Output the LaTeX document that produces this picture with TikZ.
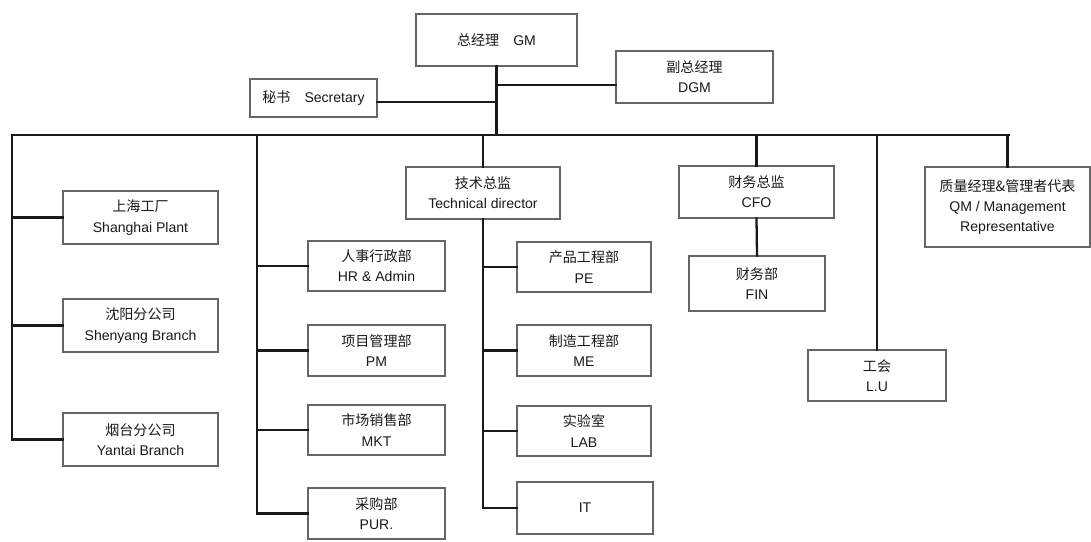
\documentclass[tikz,border=0pt]{standalone}
\usepackage{fontspec}
\setmainfont{Liberation Sans}
\newfontfamily\cjkfont{Noto Sans CJK SC}
\newcommand{\zhtext}[1]{{\cjkfont #1}}
\tikzset{
    orgbox/.style={draw=black!60, line width=0.6pt, align=center, inner sep=0pt,
        text=black!90, font=\fontsize{8}{11.5}\selectfont},
    boxdim/.style 2 args={minimum width=#1*0.02cm, minimum height=#2*0.02cm},
    orgline/.style={draw=black!90, line width=1.3pt, line cap=rect},
}

\begin{document}
\begin{tikzpicture}[x=0.02cm, y=-0.02cm]
    \useasboundingbox (0,0) rectangle (1091,541);
    % top
    \node[orgbox, boxdim={161}{52}] (gm) at (496.5,40) {\zhtext{总经理}\quad GM};
    \node[orgbox, boxdim={157}{52}] (dgm) at (694.5,77) {\zhtext{副总经理}\\DGM};
    \node[orgbox, boxdim={127}{38}] (sec) at (313.5,98) {\zhtext{秘书}\quad Secretary};
    % branches
    \node[orgbox, boxdim={155}{53}] (sh) at (140.5,217.5) {\zhtext{上海工厂}\\Shanghai Plant};
    \node[orgbox, boxdim={155}{53}] (sy) at (140.5,325.5) {\zhtext{沈阳分公司}\\Shenyang Branch};
    \node[orgbox, boxdim={155}{53}] (yt) at (140.5,439.5) {\zhtext{烟台分公司}\\Yantai Branch};
    % departments
    \node[orgbox, boxdim={137}{50}] (hr) at (376.5,266) {\zhtext{人事行政部}\\HR \& Admin};
    \node[orgbox, boxdim={137}{51}] (pm) at (376.5,350.5) {\zhtext{项目管理部}\\PM};
    \node[orgbox, boxdim={137}{50}] (mkt) at (376.5,430) {\zhtext{市场销售部}\\MKT};
    \node[orgbox, boxdim={137}{51}] (pur) at (376.5,513.5) {\zhtext{采购部}\\PUR.};
    \node[orgbox, boxdim={154}{52}] (tech) at (483,193) {\zhtext{技术总监}\\Technical director};
    \node[orgbox, boxdim={134}{50}] (pe) at (584,267) {\zhtext{产品工程部}\\PE};
    \node[orgbox, boxdim={134}{51}] (me) at (584,350.5) {\zhtext{制造工程部}\\ME};
    \node[orgbox, boxdim={134}{50}] (lab) at (584,431) {\zhtext{实验室}\\LAB};
    \node[orgbox, boxdim={136}{52}] (it) at (585,508) {IT};
    \node[orgbox, boxdim={155}{52}] (cfo) at (756.5,192) {\zhtext{财务总监}\\CFO};
    \node[orgbox, boxdim={136}{55}] (fin) at (757,283.5) {\zhtext{财务部}\\FIN};
    \node[orgbox, boxdim={138}{51}] (lu) at (877,375.5) {\zhtext{工会}\\L.U};
    \node[orgbox, boxdim={165}{80}] (qm) at (1007.5,207)
        {\zhtext{质量经理\&管理者代表}\\QM / Management\\Representative};
    % joints
    \coordinate (gmdgm) at (497,85);
    \coordinate (gmsec) at (497,102);
    \coordinate (busL) at (12,135);
    \coordinate (busR) at (1009,135);
    \coordinate (admin) at (257,135);
    % connectors
    \draw[orgline] (gm.south) -- (gm.south |- busL);
    \draw[orgline] (gmdgm) -- (gmdgm -| dgm.west);
    \draw[orgline] (gmsec) -- (gmsec -| sec.east);
    \draw[orgline] (busL) -- (busR);
    \draw[orgline] (busL) |- (yt.west);
    \foreach \b in {sh, sy}
        \draw[orgline] (busL |- \b.west) -- (\b.west);
    \draw[orgline] (admin) |- (pur.west);
    \foreach \d in {hr, pm, mkt}
        \draw[orgline] (admin |- \d.west) -- (\d.west);
    \draw[orgline] (tech.north) -- (tech.north |- busL);
    \draw[orgline] (tech.south) |- (it.west);
    \foreach \d in {pe, me, lab}
        \draw[orgline] (tech.south |- \d.west) -- (\d.west);
    \draw[orgline] (cfo.north) -- (cfo.north |- busL);
    \draw[orgline] (cfo.south) -- (fin.north);
    \draw[orgline] (lu.north) -- (lu.north |- busL);
    \draw[orgline] (qm.north) -- (qm.north |- busL);
\end{tikzpicture}
\end{document}
